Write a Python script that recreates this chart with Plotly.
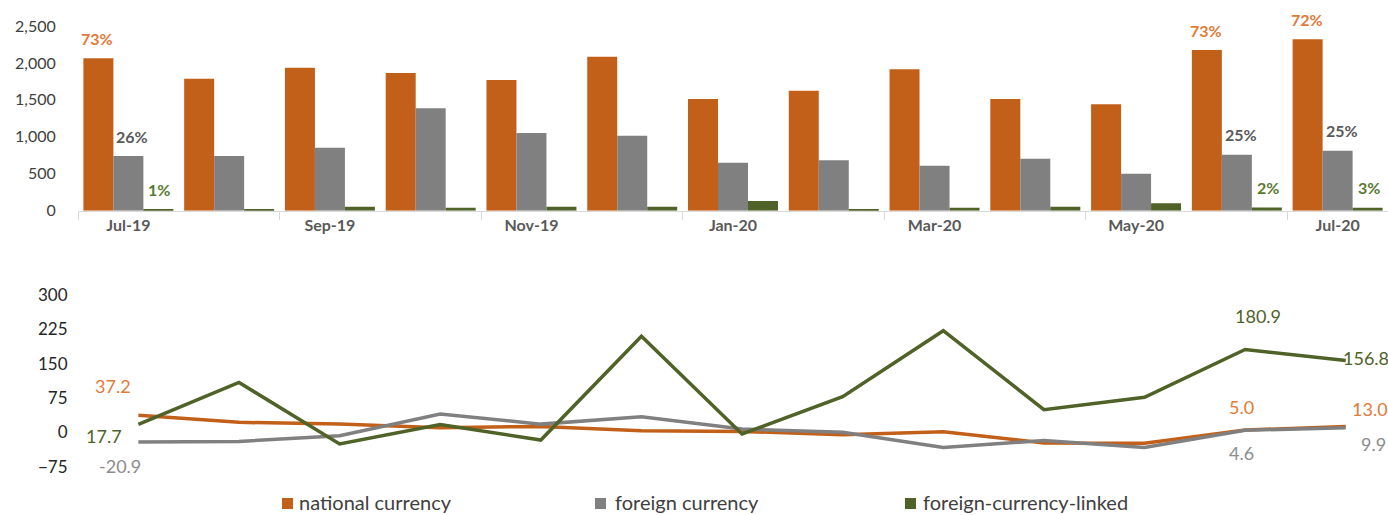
import plotly.graph_objects as go

# ---------------- data ----------------
months = ["Jul-19", "Aug-19", "Sep-19", "Oct-19", "Nov-19", "Dec-19", "Jan-20",
          "Feb-20", "Mar-20", "Apr-20", "May-20", "Jun-20", "Jul-20"]
tick_labels = months[::2]

national_stock = [2063, 1787, 1936, 1864, 1769, 2084, 1511, 1624, 1913, 1511, 1440, 2175, 2320]
foreign_stock = [740, 740, 853, 1386, 1051, 1015, 650, 682, 609, 704, 501, 758, 812]
linked_stock = [20, 15, 55, 40, 55, 55, 131, 20, 40, 54, 100, 45, 40]

share_months = ["Jul-19", "Jun-20", "Jul-20"]
national_share = ["73%", "73%", "72%"]
foreign_share = ["26%", "25%", "25%"]
linked_share = ["1%", "2%", "3%"]

national_growth = [37.2, 21.9, 18.0, 10.0, 13.0, 3.7, 2.0, -5.0, 1.5, -23.0, -24.0, 5.0, 13.0]
foreign_growth = [-20.9, -19.7, -7.3, 40.0, 18.0, 34.0, 7.4, 0.0, -33.0, -18.0, -33.0, 4.6, 9.9]
linked_growth = [17.7, 109.0, -25.4, 17.0, -16.7, 210.0, -3.5, 78.0, 222.0, 49.6, 76.5, 180.9, 156.8]

series_names = ["national currency", "foreign currency", "foreign-currency-linked"]

# ---------------- style ----------------
W, H = 1388, 515
C_OR = "#C2601A"
C_GR = "#808080"
C_GN = "#4F6228"
LBL_OR = "#E07B39"
LBL_GR_DARK = "#595959"
LBL_GR = "#8C8C8C"
LBL_GN = "#5A7A32"
FONT = "Lato"
colors = [C_OR, C_GR, C_GN]

x0 = 78 / W
top_dom = [1 - 210.7 / H, 1 - 26 / H]
bot_dom = [1 - 466.7 / H, 1 - 295 / H]

fig = go.Figure()

for name, vals, col in zip(series_names, [national_stock, foreign_stock, linked_stock], colors):
    fig.add_trace(go.Bar(x=months, y=vals, name=name, marker=dict(color=col, line=dict(width=0)),
                         xaxis="x", yaxis="y", showlegend=False, cliponaxis=False))

for name, vals, col in zip(series_names, [national_growth, foreign_growth, linked_growth], colors):
    fig.add_trace(go.Scatter(x=months, y=vals, name=name, mode="lines",
                             line=dict(color=col, width=3.5), xaxis="x2", yaxis="y2",
                             showlegend=False, cliponaxis=False))

annotations = []
# share labels above bars
for m, a, b, c in zip(share_months, national_share, foreign_share, linked_share):
    i = months.index(m)
    for txt, val, col, dx in [(a, national_stock[i], LBL_OR, -31),
                              (b, foreign_stock[i], LBL_GR_DARK, 4),
                              (c, linked_stock[i], LBL_GN, 31)]:
        annotations.append(dict(x=m, y=val, xref="x", yref="y", text=f"<b>{txt}</b>",
                                showarrow=False, xshift=dx, yshift=20,
                                font=dict(family=FONT, size=16, color=col)))

# growth labels
last = len(months) - 1
gl = [
    (0, national_growth, LBL_OR, -25, 29),
    (0, linked_growth, C_GN, -34, -12),
    (0, foreign_growth, LBL_GR, -18, -24),
    (last - 1, linked_growth, C_GN, 13, 34),
    (last, linked_growth, C_GN, 20, 3),
    (last - 1, national_growth, LBL_OR, -4, 23),
    (last, national_growth, LBL_OR, 24, 17),
    (last - 1, foreign_growth, LBL_GR, -4, -23),
    (last, foreign_growth, LBL_GR, 28, -16),
]
for i, arr, col, dx, dy in gl:
    annotations.append(dict(x=months[i], y=arr[i], xref="x2", yref="y2", text=f"{arr[i]:.1f}",
                            showarrow=False, xshift=dx, yshift=dy,
                            font=dict(family=FONT, size=18, color=col)))

# manual legend (swatch + text), positioned in paper pixels
leg_swatch_x = [282, 595, 905]
leg_text_x = [297, 613, 921]
leg_y = 502
shapes = []
for name, col, sx, tx in zip(series_names, colors, leg_swatch_x, leg_text_x):
    shapes.append(dict(type="rect", xref="paper", yref="paper",
                       x0=sx / W, x1=(sx + 11) / W,
                       y0=1 - (leg_y + 7) / H, y1=1 - (leg_y - 4) / H,
                       fillcolor=col, line=dict(width=0)))
    annotations.append(dict(x=tx / W, y=1 - leg_y / H, xref="paper", yref="paper",
                            xanchor="left", yanchor="middle", text=name, showarrow=False,
                            font=dict(family=FONT, size=20, color="#404040")))

fig.update_layout(
    width=W, height=H, autosize=False,
    margin=dict(l=0, r=0, t=0, b=0, pad=0, autoexpand=False),
    paper_bgcolor="white", plot_bgcolor="white",
    font=dict(family=FONT, color="#404040"),
    barmode="group", bargap=0.107, bargroupgap=0,
    showlegend=False,
    xaxis=dict(domain=[x0, 1], anchor="y", type="category", range=[-0.5, 12.5], automargin=False,
               tickmode="array", tickvals=tick_labels, ticktext=[f"<b>{t}</b>" for t in tick_labels],
               tickson="boundaries", ticks="outside", ticklen=8, tickcolor="#D9D9D9",
               showline=True, linecolor="#D9D9D9", linewidth=1, showgrid=False, zeroline=False,
               tickfont=dict(family=FONT, size=16, color="#595959")),
    yaxis=dict(domain=top_dom, anchor="x", range=[0, 2500], tickvals=[0, 500, 1000, 1500, 2000, 2500],
               automargin=False,
               tickformat=",", showgrid=False, zeroline=False, showline=False,
               ticks="outside", ticklen=18, tickcolor="rgba(0,0,0,0)",
               tickfont=dict(family=FONT, size=16, color="#404040")),
    xaxis2=dict(domain=[x0, 1], anchor="y2", type="category", range=[-0.6, 12.42], visible=False,
                automargin=False),
    yaxis2=dict(domain=bot_dom, anchor="x2", range=[-75, 300], tickvals=[-75, 0, 75, 150, 225, 300],
                automargin=False,
                showgrid=False, zeroline=False, showline=False,
                ticks="outside", ticklen=6, tickcolor="rgba(0,0,0,0)",
                tickfont=dict(family=FONT, size=17, color="#262626")),
    annotations=annotations,
    shapes=shapes,
)

fig.write_html("out.html", config={"displayModeBar": False, "responsive": False},
               post_script="document.body.style.margin='0px';")
